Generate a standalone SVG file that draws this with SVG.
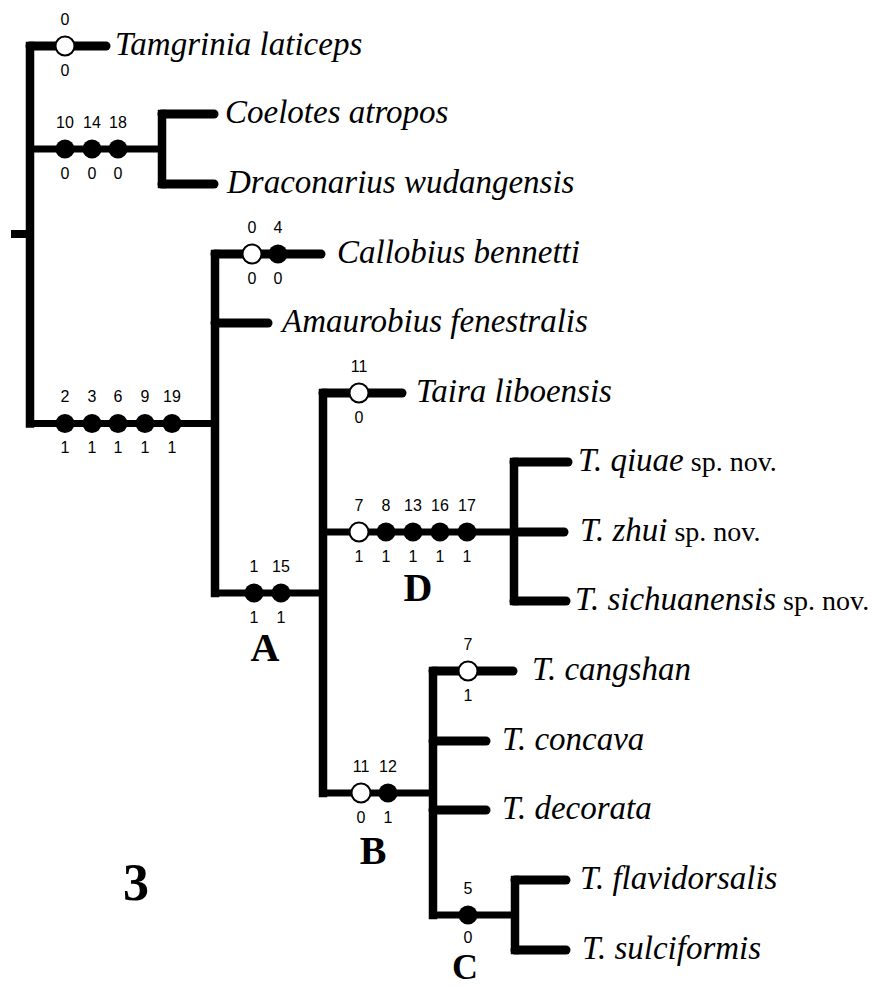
<svg xmlns="http://www.w3.org/2000/svg" width="878" height="988" viewBox="0 0 878 988">
<style>
.v{stroke:#000;stroke-width:8.5;stroke-linecap:square;fill:none}
.t{stroke:#000;stroke-width:9;stroke-linecap:round;fill:none}
.h{stroke:#000;stroke-width:7;stroke-linecap:butt;fill:none}
.o{fill:#fff;stroke:#000;stroke-width:2}
.f{fill:#000}
.n{font-family:"Liberation Serif","Times New Roman",serif;font-style:italic;font-size:33px;fill:#000}
.r{font-style:normal;font-size:28px}
.c{font-family:"Liberation Sans",Arial,sans-serif;font-size:16px;fill:#000;text-anchor:middle}
.L{font-family:"Liberation Serif","Times New Roman",serif;font-weight:bold;font-size:40px;fill:#000;text-anchor:middle}
</style>
<rect width="878" height="988" fill="#fff"/>
<g id="connectors">
<line class="h" x1="11" y1="234" x2="30" y2="234" style="stroke-width:8"/>
<line class="v" x1="30" y1="46" x2="30" y2="423.5"/>
<line class="t" x1="30" y1="46" x2="106" y2="46"/>
<line class="h" x1="30" y1="149" x2="162" y2="149"/>
<line class="v" x1="162" y1="114" x2="162" y2="184"/>
<line class="t" x1="162" y1="114" x2="214" y2="114"/>
<line class="t" x1="162" y1="184" x2="214" y2="184"/>
<line class="h" x1="30" y1="423.5" x2="215" y2="423.5"/>
<line class="v" x1="215" y1="254" x2="215" y2="593"/>
<line class="t" x1="215" y1="254" x2="321" y2="254"/>
<line class="t" x1="215" y1="323" x2="268" y2="323"/>
<line class="h" x1="215" y1="593" x2="323" y2="593"/>
<line class="v" x1="323" y1="393" x2="323" y2="793"/>
<line class="t" x1="323" y1="393" x2="402" y2="393"/>
<line class="h" x1="323" y1="532" x2="514" y2="532"/>
<line class="v" x1="514" y1="462" x2="514" y2="601"/>
<line class="t" x1="514" y1="462" x2="568" y2="462"/>
<line class="t" x1="514" y1="532" x2="564" y2="532"/>
<line class="t" x1="514" y1="601" x2="566" y2="601"/>
<line class="h" x1="323" y1="793" x2="433" y2="793"/>
<line class="v" x1="433" y1="671" x2="433" y2="915"/>
<line class="t" x1="433" y1="671" x2="513" y2="671"/>
<line class="t" x1="433" y1="741" x2="486" y2="741"/>
<line class="t" x1="433" y1="810" x2="486" y2="810"/>
<line class="h" x1="433" y1="915" x2="515" y2="915"/>
<line class="v" x1="515" y1="880" x2="515" y2="950"/>
<line class="t" x1="515" y1="880" x2="566" y2="880"/>
<line class="t" x1="515" y1="950" x2="566" y2="950"/>
</g>
<g id="chars-tamgrinia">
<circle class="o" cx="65" cy="46" r="9.5"/>
<text class="c" x="65" y="25">0</text><text class="c" x="65" y="76">0</text>
</g>
<g id="chars-coelotes-draconarius">
<circle class="f" cx="65" cy="149" r="9.5"/><circle class="f" cx="92" cy="149" r="9.5"/><circle class="f" cx="118" cy="149" r="9.5"/>
<text class="c" x="65" y="128">10</text><text class="c" x="92" y="128">14</text><text class="c" x="118" y="128">18</text>
<text class="c" x="65" y="179">0</text><text class="c" x="92" y="179">0</text><text class="c" x="118" y="179">0</text>
</g>
<g id="chars-ingroup">
<circle class="f" cx="65" cy="423.5" r="9.5"/><circle class="f" cx="92" cy="423.5" r="9.5"/><circle class="f" cx="118" cy="423.5" r="9.5"/><circle class="f" cx="145" cy="423.5" r="9.5"/><circle class="f" cx="172" cy="423.5" r="9.5"/>
<text class="c" x="65" y="402">2</text><text class="c" x="92" y="402">3</text><text class="c" x="118" y="402">6</text><text class="c" x="145" y="402">9</text><text class="c" x="172" y="402">19</text>
<text class="c" x="65" y="453">1</text><text class="c" x="92" y="453">1</text><text class="c" x="118" y="453">1</text><text class="c" x="145" y="453">1</text><text class="c" x="172" y="453">1</text>
</g>
<g id="chars-callobius">
<circle class="o" cx="252" cy="254" r="9.5"/><circle class="f" cx="278" cy="254" r="9.5"/>
<text class="c" x="252" y="233">0</text><text class="c" x="278" y="233">4</text>
<text class="c" x="252" y="284">0</text><text class="c" x="278" y="284">0</text>
</g>
<g id="chars-A">
<circle class="f" cx="254" cy="593" r="9.5"/><circle class="f" cx="281" cy="593" r="9.5"/>
<text class="c" x="254" y="572">1</text><text class="c" x="281" y="572">15</text>
<text class="c" x="254" y="623">1</text><text class="c" x="281" y="623">1</text>
</g>
<g id="chars-taira">
<circle class="o" cx="359" cy="393" r="9.5"/>
<text class="c" x="359" y="372">11</text><text class="c" x="359" y="423">0</text>
</g>
<g id="chars-D">
<circle class="o" cx="359" cy="532" r="9.5"/><circle class="f" cx="386" cy="532" r="9.5"/><circle class="f" cx="413" cy="532" r="9.5"/><circle class="f" cx="440" cy="532" r="9.5"/><circle class="f" cx="467" cy="532" r="9.5"/>
<text class="c" x="359" y="511">7</text><text class="c" x="386" y="511">8</text><text class="c" x="413" y="511">13</text><text class="c" x="440" y="511">16</text><text class="c" x="467" y="511">17</text>
<text class="c" x="359" y="562">1</text><text class="c" x="386" y="562">1</text><text class="c" x="413" y="562">1</text><text class="c" x="440" y="562">1</text><text class="c" x="467" y="562">1</text>
</g>
<g id="chars-B">
<circle class="o" cx="361" cy="793" r="9.5"/><circle class="f" cx="388" cy="793" r="9.5"/>
<text class="c" x="361" y="772">11</text><text class="c" x="388" y="772">12</text>
<text class="c" x="361" y="823">0</text><text class="c" x="388" y="823">1</text>
</g>
<g id="chars-cangshan">
<circle class="o" cx="468" cy="671" r="9.5"/>
<text class="c" x="468" y="650">7</text><text class="c" x="468" y="701">1</text>
</g>
<g id="chars-C">
<circle class="f" cx="468" cy="915" r="9.5"/>
<text class="c" x="468" y="943">0</text><text class="c" x="468" y="894">5</text>
</g>
<g id="taxon-tamgrinia"><text class="n" x="115" y="55">Tamgrinia laticeps</text></g>
<g id="taxon-coelotes"><text class="n" x="225" y="123">Coelotes atropos</text></g>
<g id="taxon-draconarius"><text class="n" x="227" y="193">Draconarius wudangensis</text></g>
<g id="taxon-callobius"><text class="n" x="337" y="263">Callobius bennetti</text></g>
<g id="taxon-amaurobius"><text class="n" x="282" y="332">Amaurobius fenestralis</text></g>
<g id="taxon-taira"><text class="n" x="416" y="402">Taira liboensis</text></g>
<g id="taxon-qiuae"><text class="n" x="578" y="471">T. qiuae<tspan class="r"> sp. nov.</tspan></text></g>
<g id="taxon-zhui"><text class="n" x="580" y="541">T. zhui<tspan class="r"> sp. nov.</tspan></text></g>
<g id="taxon-sichuanensis"><text class="n" x="575" y="610">T. sichuanensis<tspan class="r"> sp. nov.</tspan></text></g>
<g id="taxon-cangshan"><text class="n" x="532" y="680">T. cangshan</text></g>
<g id="taxon-concava"><text class="n" x="502" y="750">T. concava</text></g>
<g id="taxon-decorata"><text class="n" x="502" y="819">T. decorata</text></g>
<g id="taxon-flavidorsalis"><text class="n" x="580" y="889">T. flavidorsalis</text></g>
<g id="taxon-sulciformis"><text class="n" x="582" y="959">T. sulciformis</text></g>
<g id="clade-A"><text class="L" x="265" y="661">A</text></g>
<g id="clade-D"><text class="L" x="418" y="601">D</text></g>
<g id="clade-B"><text class="L" x="373" y="864">B</text></g>
<g id="clade-C"><text class="L" x="465" y="979" style="font-size:36px">C</text></g>
<g id="figure-number"><text class="L" x="136" y="900" style="font-size:52px">3</text></g>
</svg>
